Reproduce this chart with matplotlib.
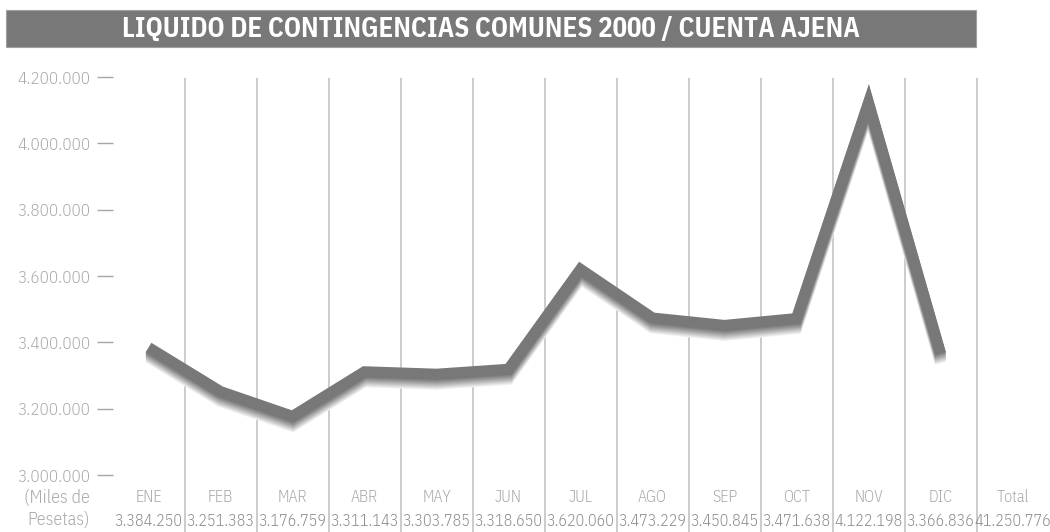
import matplotlib
matplotlib.use("Agg")
import matplotlib.pyplot as plt
import matplotlib.patches as mpatches
from matplotlib.transforms import offset_copy
import numpy as np

# ---------------- data ----------------
title = "LIQUIDO DE CONTINGENCIAS COMUNES 2000 / CUENTA AJENA"
months = ["ENE", "FEB", "MAR", "ABR", "MAY", "JUN", "JUL", "AGO", "SEP", "OCT", "NOV", "DIC"]
values = [3384250, 3251383, 3176759, 3311143, 3303785, 3318650,
          3620060, 3473229, 3450845, 3471638, 4122198, 3366836]
value_labels = ["3.384.250", "3.251.383", "3.176.759", "3.311.143", "3.303.785", "3.318.650",
                "3.620.060", "3.473.229", "3.450.845", "3.471.638", "4.122.198", "3.366.836"]
total_label = "Total"
total_value = "41.250.776"
yticks = [3000000, 3200000, 3400000, 3600000, 3800000, 4000000, 4200000]
ytick_labels = ["3.000.000", "3.200.000", "3.400.000", "3.600.000", "3.800.000", "4.000.000", "4.200.000"]
unit_label = "(Miles de\nPesetas)"

LAB = "IBM Plex Sans Condensed"

W, H = 1050, 532
fig = plt.figure(figsize=(W / 100, H / 100), dpi=100)

# axes geometry in pixels
ax_left, ax_right = 113, 1050
ax_top, ax_bottom = 77, 532
ax = fig.add_axes([ax_left / W, 1 - ax_bottom / H, (ax_right - ax_left) / W, (ax_bottom - ax_top) / H])
px_per_unit_x = 72.0
x0_px = 148.5
xlim = ((ax_left - x0_px) / px_per_unit_x, (ax_right - x0_px) / px_per_unit_x)
ppm = (475 - 77) / 1.2e6
ylim = (3.0e6 - (ax_bottom - 475) / ppm, 4.2e6)
ax.set_xlim(*xlim)
ax.set_ylim(*ylim)
for s in ax.spines.values():
    s.set_visible(False)
ax.set_xticks([])

# y ticks
ax.set_yticks(yticks)
ax.set_yticklabels(ytick_labels, fontsize=12.3, color="#ababab", family=LAB, fontweight=300)
ax.tick_params(axis="y", length=11.5, width=1.0, color="#a6a6a6", pad=5)

# vertical separators
xs = np.arange(len(months))
for i in range(len(months)):
    ax.plot([i + 0.5, i + 0.5], [ylim[0], 4.2e6 - 0.004e6], color="#c4c4c4", lw=1.2, zorder=1,
            solid_capstyle="butt")

# shadow gradient + main line
gray = np.array([0x78, 0x78, 0x78]) / 255.0
nsh = 10
for k in range(nsh, 0, -1):
    t = (k / (nsh + 1)) ** 1.1
    col = gray * (1 - t) + np.ones(3) * t
    tr = offset_copy(ax.transData, fig=fig, x=0, y=-k, units="dots")
    ax.plot(xs, values, color=col, lw=8.0, transform=tr, solid_joinstyle="miter",
            solid_capstyle="butt", zorder=2)
ax.plot(xs, values, color="#787878", lw=8.0, solid_joinstyle="miter", solid_capstyle="butt", zorder=3)

# bottom labels
y_month = 3.0e6 - (497 - 475) / ppm
y_val = 3.0e6 - (521 - 475) / ppm
for i, (m, v) in enumerate(zip(months, value_labels)):
    ax.text(i, y_month, m, ha="center", va="center", fontsize=11.5, color="#ababab",
            family=LAB, fontweight=300)
    ax.text(i, y_val, v, ha="center", va="center", fontsize=11.5, color="#8c8c8c",
            family=LAB, fontweight=300)
ax.text(12, y_month, total_label, ha="center", va="center", fontsize=11.5, color="#ababab",
        family=LAB, fontweight=300)
ax.text(12, y_val, total_value, ha="center", va="center", fontsize=11.5, color="#8c8c8c",
        family=LAB, fontweight=300)

fig.text(90 / W, 1 - 509 / H, unit_label, ha="right", va="center", fontsize=13, color="#ababab",
         family=LAB, fontweight=300, linespacing=1.3)

# title banner
fig.patches.append(mpatches.Rectangle((6 / W, 1 - 47 / H), (976 - 6) / W, 36.5 / H,
                                      transform=fig.transFigure, facecolor="#787878",
                                      edgecolor="#a0a0a0", lw=0.8, zorder=0))
fig.text(491 / W, 1 - 29.5 / H, title, ha="center", va="center", fontsize=19.4, color="white",
         fontweight="bold", family=LAB)

fig.savefig("out.png", dpi=100)
